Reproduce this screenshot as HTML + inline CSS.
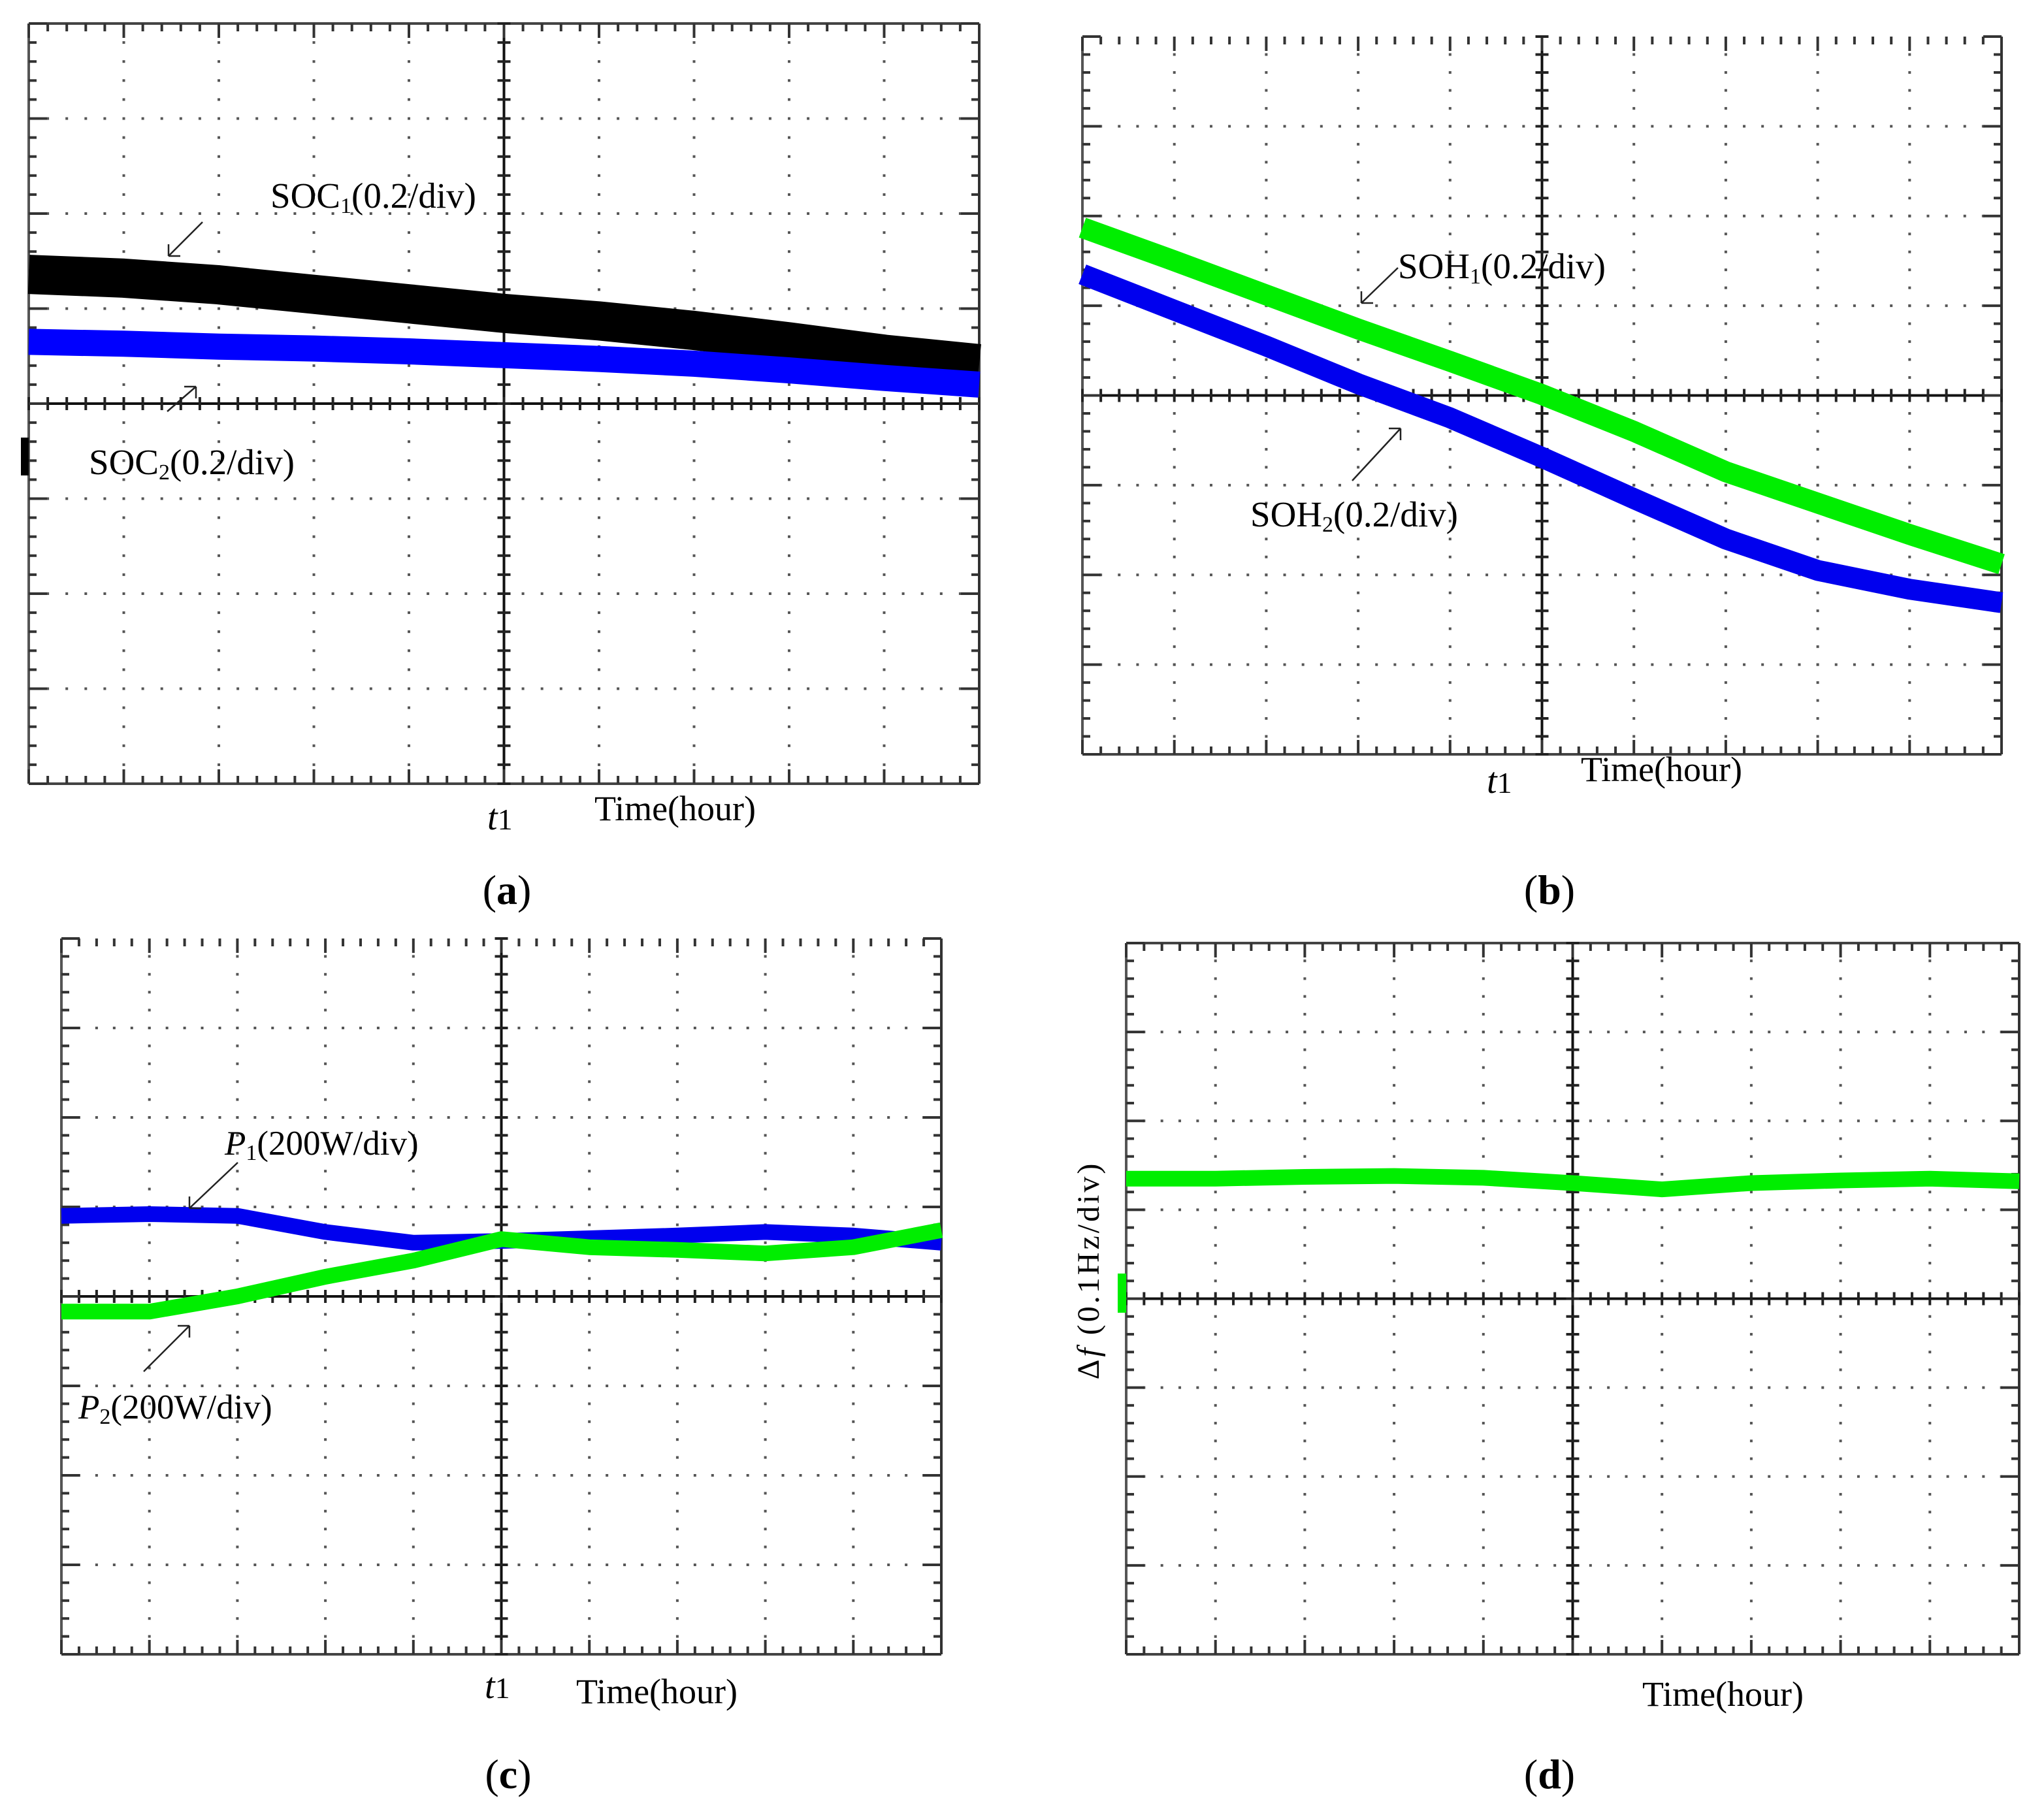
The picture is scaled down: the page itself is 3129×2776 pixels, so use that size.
<!DOCTYPE html>
<html><head><meta charset="utf-8">
<style>
html,body{margin:0;padding:0;background:#fff;}
svg{display:block;}
text{font-family:"Liberation Serif",serif;fill:#000;}
</style></head>
<body>
<svg id="fig" width="3129" height="2776" viewBox="0 0 3129 2776" xmlns="http://www.w3.org/2000/svg">
<g id="pa"></g>
<g id="pb"></g>
<g id="pc"></g>
<g id="pd"></g>

<g stroke="#222" stroke-width="2.5" fill="none">
<path d="M310 340 L258 392 M258 392 l0 -18 M258 392 l18 0"/>
<path d="M256 630 L300 592 M300 592 l-18 0 M300 592 l0 18"/>
<path d="M2140 410 L2084 464 M2084 464 l0 -18 M2084 464 l18 0"/>
<path d="M2070 736 L2144 656 M2144 656 l-18 0 M2144 656 l0 18"/>
<path d="M364 1780 L290 1850 M290 1850 l0 -18 M290 1850 l18 0"/>
<path d="M220 2100 L290 2030 M290 2030 l-18 0 M290 2030 l0 18"/>
</g>
<rect x="32" y="670" width="12" height="58" fill="#000"/>
<rect x="1711" y="1950" width="13" height="60" fill="#00ee00"/>

<text x="414" y="318" font-size="55">SOC<tspan font-size="34" dy="8">1</tspan><tspan dy="-8">(0.2/div)</tspan></text>
<text x="136" y="726" font-size="55">SOC<tspan font-size="34" dy="8">2</tspan><tspan dy="-8">(0.2/div)</tspan></text>
<text x="746" y="1270" font-size="56" font-style="italic">t<tspan font-style="normal" font-size="46">1</tspan></text>
<text x="910" y="1256" font-size="54">Time(hour)</text>
<text x="776" y="1384" font-size="64" text-anchor="middle">(<tspan font-weight="bold">a</tspan>)</text>

<text x="2140" y="426" font-size="55">SOH<tspan font-size="34" dy="8">1</tspan><tspan dy="-8">(0.2/div)</tspan></text>
<text x="1914" y="806" font-size="55">SOH<tspan font-size="34" dy="8">2</tspan><tspan dy="-8">(0.2/div)</tspan></text>
<text x="2276" y="1214" font-size="56" font-style="italic">t<tspan font-style="normal" font-size="46">1</tspan></text>
<text x="2420" y="1196" font-size="54">Time(hour)</text>
<text x="2372" y="1384" font-size="64" text-anchor="middle">(<tspan font-weight="bold">b</tspan>)</text>

<text x="344" y="1768" font-size="53"><tspan font-style="italic">P</tspan><tspan font-size="34" dy="8">1</tspan><tspan dy="-8">(200W/div)</tspan></text>
<text x="120" y="2172" font-size="53"><tspan font-style="italic">P</tspan><tspan font-size="34" dy="8">2</tspan><tspan dy="-8">(200W/div)</tspan></text>
<text x="742" y="2600" font-size="56" font-style="italic">t<tspan font-style="normal" font-size="46">1</tspan></text>
<text x="882" y="2608" font-size="54">Time(hour)</text>
<text x="778" y="2738" font-size="64" text-anchor="middle">(<tspan font-weight="bold">c</tspan>)</text>

<text transform="translate(1682,1945) rotate(-90)" font-size="48" text-anchor="middle" letter-spacing="4">Δ<tspan font-style="italic">f</tspan> (0.1Hz/div)</text>
<text x="2514" y="2612" font-size="54">Time(hour)</text>
<text x="2372" y="2738" font-size="64" text-anchor="middle">(<tspan font-weight="bold">d</tspan>)</text>
</svg>
<script>
// data in divisions from center axis (positive = up), sampled at each horizontal division 0..10
const divIdx = [0,1,2,3,4,5,6,7,8,9,10];
const soc1 = [1.36,1.32,1.25,1.15,1.05,0.95,0.87,0.77,0.65,0.52,0.42];
const soc2 = [0.65,0.63,0.60,0.58,0.55,0.51,0.47,0.42,0.35,0.27,0.20];
const soh1 = [1.87,1.50,1.12,0.74,0.38,0.01,-0.40,-0.85,-1.20,-1.55,-1.88];
const soh2 = [1.35,0.95,0.55,0.13,-0.25,-0.69,-1.15,-1.60,-1.95,-2.16,-2.31];
const p1 = [0.90,0.92,0.90,0.72,0.60,0.62,0.65,0.68,0.72,0.68,0.60];
const p2 = [-0.17,-0.17,0.00,0.22,0.40,0.64,0.55,0.52,0.48,0.55,0.74];
const df = [1.35,1.35,1.37,1.38,1.36,1.30,1.23,1.30,1.33,1.35,1.32];

const NS="http://www.w3.org/2000/svg";
function mk(tag, parent, attrs){
  const e=document.createElementNS(NS,tag);
  for(const k in attrs) e.setAttribute(k,attrs[k]);
  parent.appendChild(e); return e;
}
function scope(g, L, R, T, B, topBorder){
  const cx=(L+R)/2, cy=(T+B)/2, dx=(R-L)/10, dy=(B-T)/8;
  const grid=mk('g',g,{});
  
  
  for(let i=1;i<10;i++){ if(i===5) continue;
    const x=L+i*dx;
    for(let j=1;j<40;j++){ const y=T+j*dy/5; mk('rect',grid,{x:x-2,y:y-2,width:4,height:4,fill:'#555'}); }
  }
  for(let j=1;j<8;j++){ if(j===4) continue;
    const y=T+j*dy;
    for(let i=1;i<50;i++){ const x=L+i*dx/5; mk('rect',grid,{x:x-2,y:y-2,width:4,height:4,fill:'#555'}); }
  }
  mk('line',grid,{x1:L,y1:T,x2:L,y2:B,stroke:'#555',"stroke-width":4});
  mk('line',grid,{x1:R,y1:T,x2:R,y2:B,stroke:'#333',"stroke-width":4});
  mk('line',grid,{x1:L,y1:B,x2:R,y2:B,stroke:'#444',"stroke-width":4});
  if(topBorder) mk('line',grid,{x1:L,y1:T,x2:R,y2:T,stroke:'#444',"stroke-width":4});
  mk('line',grid,{x1:cx,y1:T,x2:cx,y2:B,stroke:'#111',"stroke-width":4});
  mk('line',grid,{x1:L,y1:cy,x2:R,y2:cy,stroke:'#111',"stroke-width":4});
  for(let i=0;i<=50;i++){
    const x=L+i*dx/5, maj=i%5===0;
    mk('line',grid,{x1:x,y1:B,x2:x,y2:B-(maj?22:12),stroke:'#333',"stroke-width":4});
    mk('line',grid,{x1:x,y1:T,x2:x,y2:T+(maj?22:12),stroke:'#333',"stroke-width":4});
    mk('line',grid,{x1:x,y1:cy-10,x2:x,y2:cy+10,stroke:'#222',"stroke-width":4});
  }
  for(let j=0;j<=40;j++){
    const y=T+j*dy/5, maj=j%5===0;
    mk('line',grid,{x1:L,y1:y,x2:L+(maj?28:12),y2:y,stroke:'#333',"stroke-width":4});
    mk('line',grid,{x1:R,y1:y,x2:R-(maj?28:12),y2:y,stroke:'#333',"stroke-width":4});
    mk('line',grid,{x1:cx-10,y1:y,x2:cx+10,y2:y,stroke:'#222',"stroke-width":4});
  }
  return {xs:i=>L+i*dx, ys:v=>cy-v*dy};
}
function trace(g, ax, vals, color, w, name){
  const pts=divIdx.map((d,i)=>ax.xs(d).toFixed(1)+','+ax.ys(vals[i]).toFixed(1)).join(' ');
  const p=mk('polyline',g,{points:pts,fill:'none',stroke:color,"stroke-width":w,"stroke-linejoin":'round'});
  
  
}
const A=scope(document.getElementById('pa'),44,1499,36,1200,true);
trace(document.getElementById('pa'),A,soc1,'#000',60,'soc1-trace');
trace(document.getElementById('pa'),A,soc2,'#0000ff',40,'soc2-trace');
const Bx=scope(document.getElementById('pb'),1657,3064,56,1155,false);
trace(document.getElementById('pb'),Bx,soh1,'#00ee00',32,'soh1-trace');
trace(document.getElementById('pb'),Bx,soh2,'#0000ee',32,'soh2-trace');
const C=scope(document.getElementById('pc'),94,1441,1437,2533,false);
trace(document.getElementById('pc'),C,p1,'#0000ee',24,'p1-trace');
trace(document.getElementById('pc'),C,p2,'#00ee00',24,'p2-trace');
const D=scope(document.getElementById('pd'),1724,3091,1444,2533,true);
trace(document.getElementById('pd'),D,df,'#00ee00',24,'df-trace');
</script>
</body></html>
